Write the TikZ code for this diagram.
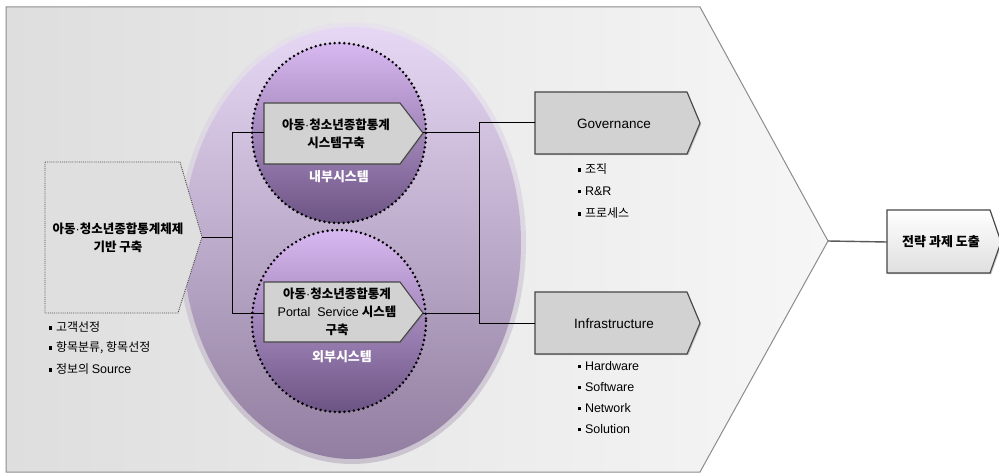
\documentclass[tikz,border=0pt]{standalone}
\usepackage{fontspec}
\setmainfont{Liberation Sans}
\newfontfamily\kr{Noto Sans CJK KR}
\usetikzlibrary{shadows}
\definecolor{bggray}{RGB}{222,222,222}
\definecolor{bglight}{RGB}{246,246,246}
\definecolor{bgborder}{RGB}{140,140,140}
\definecolor{boxfill}{RGB}{210,210,210}
\definecolor{boxborder}{RGB}{70,70,70}
\definecolor{ellTop}{RGB}{230,216,244}
\definecolor{ellBot}{RGB}{146,126,160}
\definecolor{cirTop}{RGB}{216,184,240}
\definecolor{cirBot}{RGB}{108,84,132}
\tikzset{
  pentbox/.style={fill=boxfill, draw=boxborder, line width=1.1pt, line join=miter,
    drop shadow={shadow xshift=1.2pt, shadow yshift=-1.2pt, opacity=.45, fill=gray}},
  boxtext/.style={font=\kr\bfseries\fontsize{12.5}{18}\selectfont, align=center, inner sep=0pt},
  latbox/.style={font=\fontsize{13.5}{15}\selectfont, inner sep=0pt},
  bul/.style={anchor=west, inner sep=0pt, font=\kr\fontsize{12}{13}\selectfont},
  latbul/.style={bul, font=\fontsize{12.5}{13}\selectfont},
  sublabel/.style={font=\kr\bfseries\fontsize{13}{14}\selectfont, text=white, inner sep=0pt},
  conn/.style={draw=black, line width=1pt},
  dotcircle/.style={draw=black, line width=2.8pt, line cap=round, dash pattern=on 0pt off 4.8pt}
}
\newcommand{\bsq}{\rule[0.3ex]{2.8pt}{3.6pt}\hspace{4pt}}
\newcommand{\md}{{\rmfamily\mdseries ·}}
\begin{document}
\begin{tikzpicture}[x=1pt,y=-1pt]
\useasboundingbox (0,0) rectangle (999,476);
% background chevron
\shade[left color=bggray, right color=bglight] (6,7) -- (700,7) -- (828,241) -- (700,472) -- (6,472) -- cycle;
\draw[bgborder, line width=1pt] (6,7) -- (700,7) -- (828,241) -- (700,472) -- (6,472) -- cycle;
\coordinate (vtx) at (828,241);
% big ellipse with soft edge
\shade[top color=ellTop, bottom color=ellBot, opacity=.35] (352,243) ellipse [x radius=174, y radius=221];
\shade[top color=ellTop, bottom color=ellBot] (352,243) ellipse [x radius=169, y radius=216];
% inner dotted circles
\shade[top color=cirTop, bottom color=cirBot] (339,133) ellipse [x radius=87, y radius=90];
\draw[dotcircle] (339,133) ellipse [x radius=87, y radius=90];
\shade[top color=cirTop, bottom color=cirBot] (339,321) ellipse [x radius=87, y radius=91];
\draw[dotcircle] (339,321) ellipse [x radius=87, y radius=91];
% left box
\path[fill=boxfill!70!white, draw=gray!60!black, densely dotted, line width=.9pt]
  (45,162) -- (180,162) -- (202,237) -- (178,313) -- (45,313) -- cycle;
\coordinate (lbE) at (202,237);
\node[boxtext] (lb) at (118,238) {아동\md 청소년종합통계체제\\기반 구축};
% top system box
\path[pentbox] (264,103) -- (400,103) -- (423,133) -- (400,164) -- (264,164) -- cycle;
\coordinate (b1W) at (264,133); \coordinate (b1E) at (423,133);
\node[boxtext] (b1) at (336,134) {아동\md 청소년종합통계\\시스템구축};
\node[sublabel] (in) at (339,177) {내부시스템};
% bottom system box
\path[pentbox] (264,282) -- (400,282) -- (423,313) -- (400,342) -- (264,342) -- cycle;
\coordinate (b2W) at (264,313); \coordinate (b2E) at (423,313);
\node[boxtext] (b2) at (337,312) {아동\md 청소년종합통계\\{\rmfamily\fontsize{12.5}{18}\selectfont\mdseries Portal\ \ Service} 시스템\\구축};
\node[sublabel] (out) at (342,357) {외부시스템};
% governance
\path[pentbox] (535,92) -- (687,92) -- (700,123) -- (687,154) -- (535,154) -- cycle;
\coordinate (gW) at (535,123);
\node[latbox] (gov) at (614,124) {Governance};
% infrastructure
\path[pentbox] (535,292) -- (687,292) -- (700,323) -- (687,354) -- (535,354) -- cycle;
\coordinate (iW) at (535,323);
\node[latbox] (inf) at (614,324) {Infrastructure};
% final box
\shade[top color=white, bottom color=gray!25, draw=boxborder, line width=1.1pt,
  drop shadow={shadow xshift=1.2pt, shadow yshift=-1.2pt, opacity=.45, fill=gray}]
  (887,210) -- (990,210) -- (1001,242) -- (990,273) -- (887,273) -- cycle;
\coordinate (fW) at (887,242);
\node[boxtext, font=\kr\bfseries\fontsize{13}{14}\selectfont] (fin) at (941,242) {전략 과제 도출};
% connectors
\coordinate (j1) at (232,237);
\coordinate (j1b) at (232,313);
\draw[conn] (lbE) -- (j1);
\draw[conn] (b1W) -| (j1b) -- (b2W);
\coordinate (j2t) at (479,123);
\coordinate (j2b) at (479,323);
\coordinate (j2a) at (479,133);
\coordinate (j2c) at (479,313);
\draw[conn] (b1E) -- (j2a);
\draw[conn] (b2E) -- (j2c);
\draw[conn] (gW) -- (j2t) -- (j2b) -- (iW);
\draw[draw=gray!70!black, line width=1.4pt] (vtx) -- (fW);
% bullets
\node[bul] (l1) at (49,327) {\bsq 고객선정};
\node[bul] (l2) at (49,348) {\bsq 항목분류, 항목선정};
\node[bul] (l3) at (49,369) {\bsq 정보의 {\rmfamily\fontsize{12.5}{13}\selectfont Source}};
\node[bul] (g1) at (578,169) {\bsq 조직};
\node[bul] (g2) at (578,191) {\bsq {\rmfamily\fontsize{12.5}{13}\selectfont R\&R}};
\node[bul] (g3) at (578,213) {\bsq 프로세스};
\node[latbul] (h1) at (578,366) {\bsq Hardware};
\node[latbul] (h2) at (578,387) {\bsq Software};
\node[latbul] (h3) at (578,408) {\bsq Network};
\node[latbul] (h4) at (578,429) {\bsq Solution};
\end{tikzpicture}
\end{document}
